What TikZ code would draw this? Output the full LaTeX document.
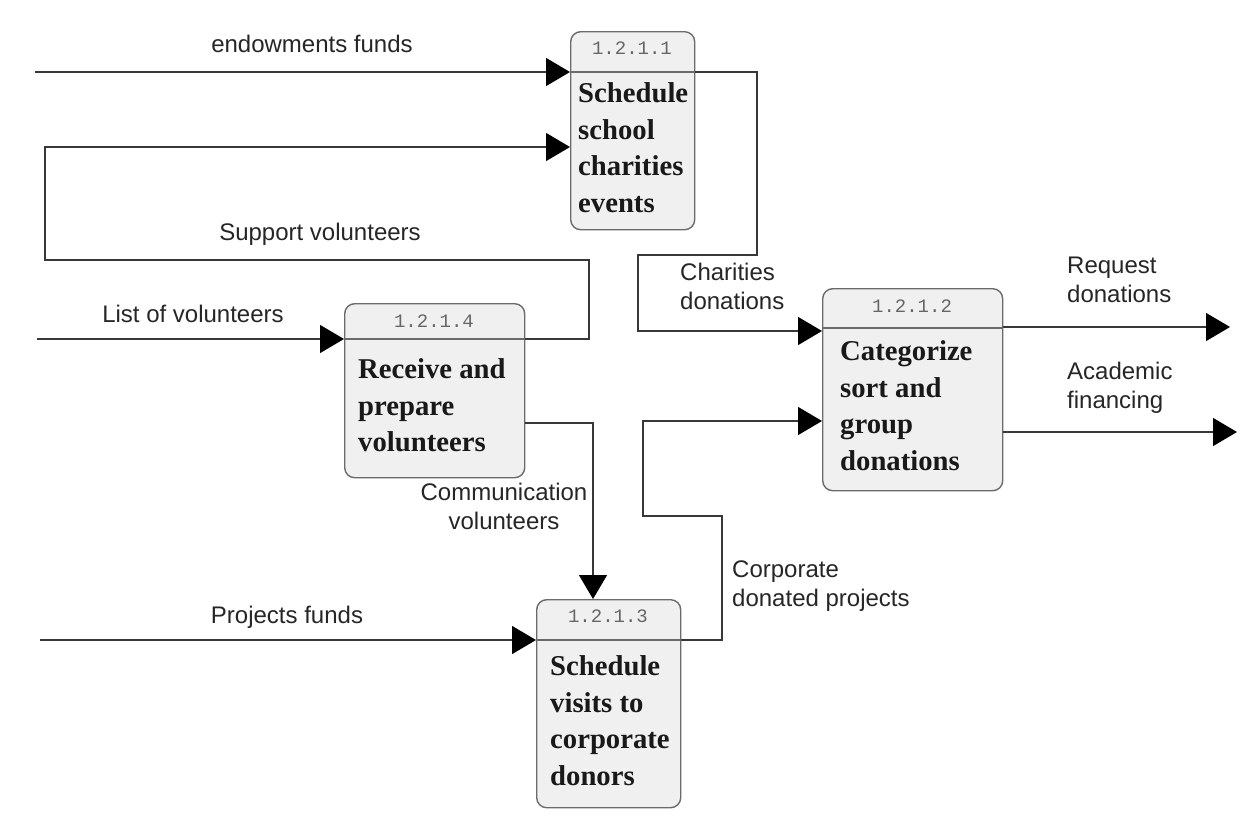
\documentclass[tikz,border=0pt]{standalone}
\usepackage{fontspec}
\setmainfont{Liberation Serif}
\setsansfont{Liberation Sans}
\setmonofont{Liberation Mono}
\usetikzlibrary{arrows.meta}
\begin{document}
\begin{tikzpicture}[x=1pt,y=-1pt,
  box/.style={draw=black!58, fill=black!6, line width=1.4pt, rounded corners=10pt, inner sep=0pt, anchor=north west},
  divline/.style={draw=black!58, line width=1.4pt},
  flow/.style={draw=black!78, line width=1.4pt},
  arr/.style={flow, -{Triangle[length=24pt,width=28pt,color=black]}},
  num/.style={font=\ttfamily\fontsize{19}{22}\selectfont, text=black!60, anchor=base, inner sep=0pt},
  ptext/.style={font=\bfseries\fontsize{28.7}{36.5}\selectfont, align=left, anchor=north west, inner sep=0pt, text=black!90},
  lbl/.style={font=\sffamily\fontsize{24}{29}\selectfont, inner sep=0pt, text=black!85},
]
\useasboundingbox[fill=white] (0,0) rectangle (1254,823);

% ---------- process boxes ----------
\node[box, minimum width=124pt, minimum height=198pt] (A) at (570,31) {};
\node[box, minimum width=180pt, minimum height=174pt] (D) at (344,303) {};
\node[box, minimum width=180pt, minimum height=202pt] (B) at (822,288) {};
\node[box, minimum width=144pt, minimum height=208pt] (C) at (536,599) {};

\coordinate (Adiv) at (0,72);
\coordinate (Ddiv) at (0,339);
\coordinate (Bdiv) at (0,328);
\coordinate (Cdiv) at (0,640);
\draw[divline] (A.west |- Adiv) -- (A.east |- Adiv);
\draw[divline] (D.west |- Ddiv) -- (D.east |- Ddiv);
\draw[divline] (B.west |- Bdiv) -- (B.east |- Bdiv);
\draw[divline] (C.west |- Cdiv) -- (C.east |- Cdiv);

\node[num] (An) at (632,54) {1.2.1.1};
\node[num] (Dn) at (434,327) {1.2.1.4};
\node[num] (Bn) at (912,312) {1.2.1.2};
\node[num] (Cn) at (608,622) {1.2.1.3};

\node[ptext] (At) at (578,82.5) {Schedule\\school\\charities\\events};
\node[ptext] (Dt) at (358,358.5) {Receive and\\prepare\\volunteers};
\node[ptext] (Bt) at (840,340.5) {Categorize\\sort and\\group\\donations};
\node[ptext] (Ct) at (550,655.5) {Schedule\\visits to\\corporate\\donors};

% ---------- connectors ----------
\coordinate (eIn) at (35,72);
\draw[arr] (eIn) -- (eIn -| A.west);

\coordinate (dOut) at (589,339);
\coordinate (s3) at (589,260);
\coordinate (s2) at (45,260);
\coordinate (s1) at (45,147);
\draw[arr] (dOut -| D.east) -- (dOut) -- (s3) -- (s2) -- (s1) -- (s1 -| A.west);

\coordinate (lIn) at (37,339);
\draw[arr] (lIn) -- (lIn -| D.west);

\coordinate (c1) at (593,423);
\draw[arr] (c1 -| D.east) -- (c1) -- (c1 |- C.north);

\coordinate (pIn) at (40,640);
\draw[arr] (pIn) -- (pIn -| C.west);

\coordinate (k1) at (722,640);
\coordinate (k2) at (722,516);
\coordinate (k3) at (643,516);
\coordinate (k4) at (643,421);
\draw[arr] (k1 -| C.east) -- (k1) -- (k2) -- (k3) -- (k4) -- (k4 -| B.west);

\coordinate (h1) at (757,72);
\coordinate (h2) at (757,255);
\coordinate (h3) at (638,255);
\coordinate (h4) at (638,331);
\draw[arr] (h1 -| A.east) -- (h1) -- (h2) -- (h3) -- (h4) -- (h4 -| B.west);

\coordinate (r1) at (1230,327);
\draw[arr] (r1 -| B.east) -- (r1);

\coordinate (a1) at (1237,432);
\draw[arr] (a1 -| B.east) -- (a1);

% ---------- labels ----------
\node[lbl, anchor=base] (Le) at (312,52) {endowments funds};
\node[lbl, anchor=base] (Ls) at (320,240) {Support volunteers};
\node[lbl, anchor=base] (Ll) at (193,322) {List of volunteers};
\node[lbl, anchor=base] (Lp) at (287,623) {Projects funds};
\node[lbl, align=left, anchor=north west] (Lh) at (680,262.5) {Charities\\donations};
\node[lbl, align=left, anchor=north west] (Lr) at (1067,256.5) {Request\\donations};
\node[lbl, align=left, anchor=north west] (La) at (1067,361.5) {Academic\\financing};
\node[lbl, align=center, anchor=north] (Lc) at (504,482.5) {Communication\\volunteers};
\node[lbl, align=left, anchor=north west] (Lk) at (732,560.5) {Corporate\\donated projects};
\end{tikzpicture}
\end{document}
